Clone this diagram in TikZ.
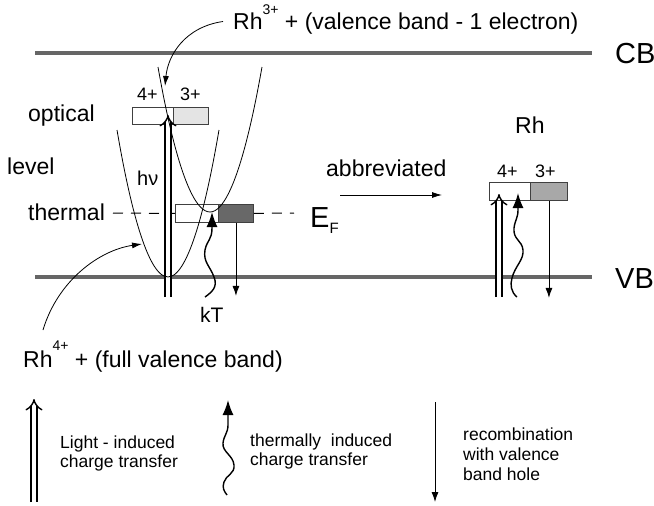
\documentclass[tikz,border=0pt]{standalone}
\usepackage{fontspec}
\setmainfont{Liberation Sans}
\usetikzlibrary{arrows.meta}
\definecolor{bandgray}{HTML}{666666}
\definecolor{lightfill}{HTML}{E4E4E4}
\definecolor{darkfill}{HTML}{686868}
\definecolor{midfill}{HTML}{A8A8A8}
\begin{document}
\begin{tikzpicture}[x=1pt,y=-1pt,
  band/.style={line width=4pt, draw=bandgray},
  txt/.style={inner sep=0pt, anchor=base west, font=\fontsize{23}{27}\selectfont},
  big/.style={inner sep=0pt, anchor=base west, font=\fontsize{29}{33}\selectfont},
  small/.style={inner sep=0pt, anchor=base west, font=\fontsize{18}{21}\selectfont},
  legend/.style={inner sep=0pt, anchor=base west, font=\fontsize{17.5}{20}\selectfont},
  half/.style={draw=black!75, line width=0.9pt, inner sep=0pt, anchor=north west},
  curve/.style={line width=0.8pt},
  light/.style={double, double distance=4.5pt, line width=1.4pt, -{Implies[scale=2.1]}},
  heat/.style={line width=1.4pt, -{Latex[length=15pt,width=11pt]}},
  recomb/.style={line width=0.9pt, -{Latex[length=10pt,width=7pt]}},
  thinarrow/.style={line width=0.8pt, -{Latex[length=10pt,width=6pt]}},
  fermi/.style={line width=1pt, dash pattern=on 10pt off 8pt},
]
\useasboundingbox (0,0) rectangle (654,506);

% bands
\draw[band] (35,53) -- (592,53);
\draw[band] (35,277) -- (592,277);
\node[big] (cb) at (615,63) {CB};
\node[big] (vb) at (615,288) {VB};

% level boxes
\node[half, minimum width=41pt, minimum height=17pt, fill=white] (o4) at (132,107) {};
\node[half, minimum width=35pt, minimum height=17pt, fill=lightfill] (o3) at (173,107) {};
\node[half, minimum width=43pt, minimum height=18pt, fill=white] (t4) at (175,204) {};
\node[half, minimum width=35pt, minimum height=18pt, fill=darkfill] (t3) at (218,204) {};
\node[half, minimum width=41pt, minimum height=18pt, fill=white] (r4) at (489,182) {};
\node[half, minimum width=37pt, minimum height=18pt, fill=midfill] (r3) at (530,182) {};

% Fermi level
\draw[fermi] (113,213) -- (t4.west);
\draw[fermi] (t3.east) -- (294,213);

% labels left
\node[small] (o4l) at (137,100) {4+};
\node[small] (o3l) at (180,100) {3+};
\node[txt] (optical) at (28,121) {optical};
\node[txt] (level) at (7,174) {level};
\node[txt] (thermal) at (28,220) {thermal};
\node[inner sep=0pt, anchor=base west, font=\fontsize{20}{24}\selectfont] (hnu) at (137,185) {hν};
\node[inner sep=0pt, anchor=base west, font=\fontsize{21}{24}\selectfont] (kt) at (200,322) {kT};
\node[big] (ef) at (310,227) {E\raisebox{-6pt}{\fontsize{15}{15}\selectfont F}};

\node[txt] (rh3) at (233,30) {Rh\raisebox{16pt}{\fontsize{14}{14}\selectfont 3+} + (valence band - 1 electron)};
\node[txt] (rh4) at (23,367) {Rh\raisebox{17pt}{\fontsize{14}{14}\selectfont 4+} + (full valence band)};

% arrows of the left scheme
\coordinate (hvb) at (168,297);
\coordinate (hvt) at (168,115);
\draw[light] (hvb) -- (hvt);
\coordinate (ktb) at (205,297);
\coordinate (ktt) at (212,212);
\draw[heat] (ktb) .. controls (212,292) and (218,287) .. (214,277)
  .. controls (210,266) and (203,262) .. (205,250)
  .. controls (207,240) and (212,240) .. (212,228) -- (ktt);
\draw[recomb] (t3.south) -- ++(0,73);

% parabolas
\draw[curve] (117,130) parabola bend (168,277) (219,130);
\draw[curve] (158,67) parabola bend (210,212) (262,67);

% pointer arrows
\coordinate (p3) at (165,86);
\draw[curve,-{Latex[length=10pt,width=6pt]}] ([xshift=-10pt,yshift=-2pt]rh3.west) .. controls (185,27) and (168,55) .. (p3);
\coordinate (p4s) at (43,330);
\coordinate (p4) at (142,244);
\draw[curve,-{Latex[length=10pt,width=6pt]}] (p4s) .. controls (58,280) and (100,250) .. (p4);

% abbreviated scheme
\node[txt] (abbr) at (326,176) {abbreviated};
\draw[thinarrow] ([xshift=14pt,yshift=-19pt]abbr.base west) -- ([xshift=116pt,yshift=-19pt]abbr.base west);
\node[txt] (rh) at (515,133) {Rh};
\node[small] (r4l) at (497,177) {4+};
\node[small] (r3l) at (535,177) {3+};
\coordinate (rhvb) at (499,297);
\coordinate (rhvt) at (499,194);
\draw[light] (rhvb) -- (rhvt);
\coordinate (rktb) at (517,297);
\coordinate (rktt) at (518,193);
\draw[heat] (rktb) .. controls (511,292) and (510,285) .. (512,278)
  .. controls (515,266) and (524,260) .. (523,250)
  .. controls (522,240) and (513,240) .. (514,228)
  .. controls (515,220) and (518,218) .. (518,210) -- (rktt);
\draw[recomb] (r3.south) -- ++(0,97);

% legend
\coordinate (l1b) at (34,502);
\coordinate (l1t) at (34,399);
\draw[light] (l1b) -- (l1t);
\node[legend] (lg1a) at (60,448) {Light - induced};
\node[legend] (lg1b) at (60,467) {charge transfer};
\coordinate (l2b) at (227,495);
\coordinate (l2t) at (228,400);
\draw[heat] (l2b) .. controls (224,491) and (222,488) .. (224,482)
  .. controls (226,475) and (235,474) .. (234,465)
  .. controls (233,455) and (222,452) .. (223,443)
  .. controls (224,435) and (228,433) .. (228,425) -- (l2t);
\node[legend] (lg2a) at (250,446) {thermally\ \ induced};
\node[legend] (lg2b) at (250,465) {charge transfer};
\coordinate (l3t) at (435,402);
\coordinate (l3b) at (435,502);
\draw[recomb] (l3t) -- (l3b);
\node[legend] (lg3a) at (463,440) {recombination};
\node[legend] (lg3b) at (463,460) {with valence};
\node[legend] (lg3c) at (463,480) {band hole};
\end{tikzpicture}
\end{document}
